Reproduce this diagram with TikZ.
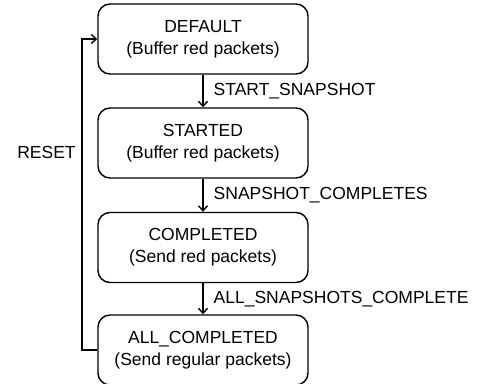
\documentclass[tikz,border=0pt]{standalone}
\usepackage{fontspec}
\setmainfont{Liberation Sans}
\usetikzlibrary{arrows.meta}
\begin{document}
\begin{tikzpicture}[x=1pt,y=-1pt,
  state/.style={draw, line width=1.4pt, rounded corners=12pt, minimum width=210pt, minimum height=70pt, align=center, font=\fontsize{17.5}{22}\selectfont, inner sep=0pt},
  lbl/.style={font=\fontsize{17.5}{22}\selectfont, inner sep=0pt},
  arr/.style={line width=1.4pt, -{Straight Barb[length=5pt,width=9pt,line width=1.4pt]}}]
\useasboundingbox (0,0) rectangle (478,383);
\node[state] (d) at (203,39) {DEFAULT\\(Buffer red packets)};
\node[state] (s) at (203,143) {STARTED\\(Buffer red packets)};
\node[state] (c) at (203,247.5) {COMPLETED\\(Send red packets)};
\node[state] (a) at (203,350) {ALL\_COMPLETED\\(Send regular packets)};
\draw[arr] (d) -- (s) node[lbl, midway, anchor=west, xshift=10pt] {START\_SNAPSHOT};
\draw[arr] (s) -- (c) node[lbl, midway, anchor=west, xshift=10pt] {SNAPSHOT\_COMPLETES};
\draw[arr] (c) -- (a) node[lbl, midway, anchor=west, xshift=10pt] {ALL\_SNAPSHOTS\_COMPLETE};
\coordinate (l1) at (82,350);
\coordinate (l2) at (82,39);
\draw[arr] (a.west) -- (l1) -- (l2) -- (d.west);
\node[lbl] (r) at (46.5,152) {RESET};
\end{tikzpicture}
\end{document}
